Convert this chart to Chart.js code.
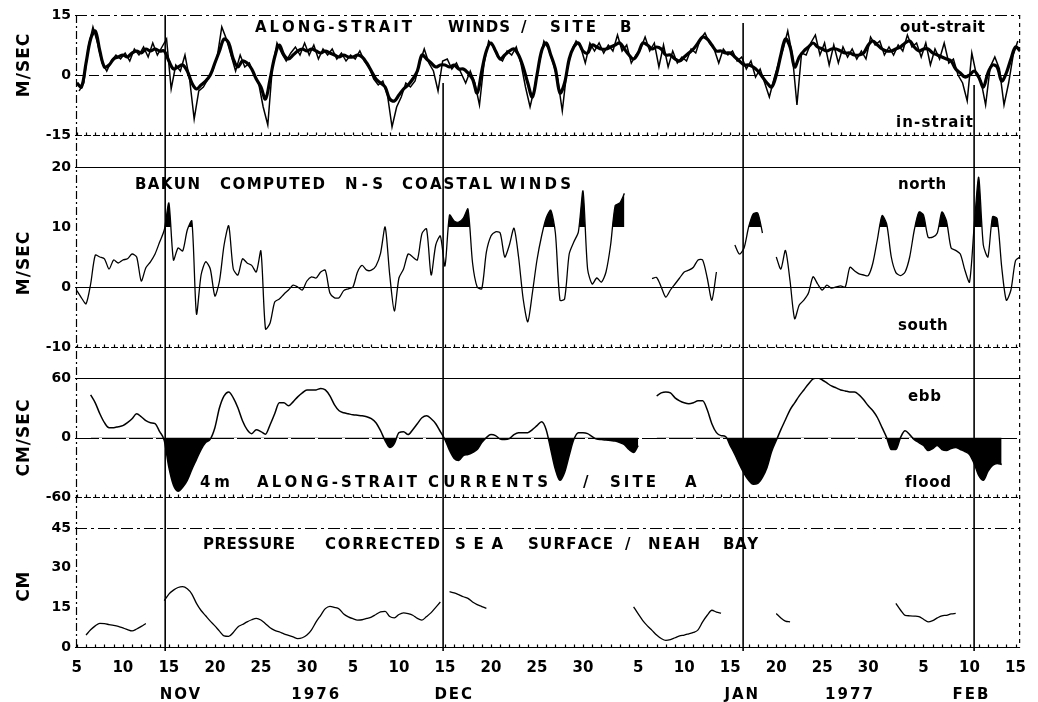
<!DOCTYPE html>
<html>
<head>
<meta charset="utf-8">
<script src="https://cdn.jsdelivr.net/npm/chart.js@4.4.1/dist/chart.umd.min.js"></script>
<style>
  html, body { margin: 0; padding: 0; background: #fff; }
  #wrap { width: 1038px; height: 702px; }
</style>
</head>
<body>
<div id="wrap"><canvas id="chart" width="1038" height="702"></canvas></div>
<script>
// ===== DATA =====
// day numbers: Nov d = d, Dec d = 30 + d, Jan d = 61 + d, Feb d = 92 + d
const STEP = 0.5; // half-day grid

const tickDays = [5, 10, 15, 20, 25, 30, 35, 40, 45, 50, 55, 60, 66, 71, 76, 81, 86, 91, 97, 102, 107];
const tickLabels = ['5', '10', '15', '20', '25', '30', '5', '10', '15', '20', '25', '30',
                    '5', '10', '15', '20', '25', '30', '5', '10', '15'];
const monthLabels = ['NOV', '1976', 'DEC', 'JAN', '1977', 'FEB'];
const monthDays = [16.2, 30.9, 45.9, 77.2, 88.9, 102.1];
const markerDays = [14.6, 44.8, 77.4, 102.5];
const markerTops = [15, -2, 13, -2.5]; // m/s on the top panel where each line begins

const yTicksWind = [15, 0, -15];
const yTicksBakun = [20, 15, 10, 5, 0, -5, -10];
const yTicksCur = [60, 0, -60];
const yTicksSea = [45, 30, 15, 0];

// along-strait wind, site B, low-passed (m/s), from day 5.0
const windSiteB = [
  -2, -3, 3, 9, 11, 6, 2, 2.5, 4, 4.5,
  5, 4.5, 5.5, 6, 5.5, 6.5, 6, 6.5, 6, 6,
  3.5, 1.5, 2, 2.5, 1, -2, -3.5, -2.5, -1.5, 0,
  3, 6, 9, 8, 4, 2, 3.5, 3, 1.5, -1,
  -3, -6, -1, 4.5, 7.5, 5, 4, 5, 6, 6.5,
  6, 6.5, 6, 5.5, 6, 5.5, 5, 4.5, 5, 4.5,
  4.5, 5, 4.5, 3, 1, -1, -2, -3, -6, -6.5,
  -5, -3.5, -2.5, -1, 1, 5, 4, 3, 2, 2.5,
  2.5, 2, 2.5, 1.5, 1.5, 0.5, -1, -4.5, 1, 6,
  8, 6, 4, 5, 6, 6.5, 5, 2, -2, -5.5,
  0, 6, 8, 5, 1.5, -4.5, -2, 4, 7, 8,
  6, 5.5, 7.5, 7, 6.5, 6.5, 7, 7.5, 8, 6.5,
  5, 4, 5.5, 8, 7.5, 6.5, 7, 6.5, 5, 5,
  4, 3.5, 4.5, 5.5, 6.5, 8, 9.5, 9, 7.5, 6,
  6, 5.5, 5.5, 4.5, 3.5, 2.5, 2.5, 2, 1, -0.5,
  -2, -3, 0, 5, 9, 7, 2, 4.5, 6, 7,
  8, 7, 6.5, 6, 6.5, 6.5, 6, 5.5, 5.5, 5,
  5, 5.5, 7.5, 8.5, 7.5, 6.5, 6, 6, 6.5, 7,
  8, 8.5, 7, 6, 6.5, 6.5, 5.5, 5, 4.5, 4,
  3.5, 1.5, 0.5, -0.5, 0, 1, -0.5, -3, 0.5, 2.5,
  2, -1.5, 0.5, 4, 7, 6
];

// along-strait wind, site B, raw (m/s), from day 5.25
const windRawB = [
  -4, -2, 7, 12, 8, 3, 1, 3.5, 5, 4,
  5.5, 3.5, 6.5, 5, 7, 4.5, 8, 5, 7, 9,
  -3.5, 2.5, 1, 5, -1, -11, -4, -3, -1, 1,
  4.5, 12, 9, 5, 1, 5, 2, 3, 0, -2,
  -8, -12.5, 2, 8, 5.5, 3.5, 5.5, 7, 5, 8,
  5, 7.5, 4, 6.5, 5, 6.5, 4, 5.5, 3.5, 5,
  4, 6, 3.5, 2, -1, -2.5, -1.5, -5, -13, -8,
  -5.5, -2, -3, -1.5, 3, 6.5, 3, 1, -4, 3.5,
  4, 1.5, 3, 0.5, -2, 1, -2, -7.5, 3, 8.5,
  7, 4.5, 3.5, 6, 5, 7, 3, -3, -8, -3,
  3, 8.5, 6.5, 3, -1, -9, 1, 6, 8.5, 7,
  3, 8, 6, 8, 5.5, 7.5, 6, 10, 6, 7.5,
  3, 5, 6.5, 9.5, 6, 8, 2, 7.5, 2, 6,
  3, 4.5, 3.5, 6.5, 5.5, 9, 10.5, 8, 6.5, 3,
  6.5, 5, 6, 3.5, 4.5, 1.5, 3.5, -0.5, 1.5, -2,
  -5.5, -1, 3, 6.5, 11, 5, -7.5, 5.5, 5, 8,
  10, 5, 8, 2.5, 7.5, 3, 7, 4.5, 6.5, 4,
  6, 4, 9.5, 7.5, 8.5, 5, 7, 5, 7.5, 6,
  10, 7, 8, 4.5, 8, 2.5, 6.5, 4, 8, 3,
  4, 0, -2, -6.5, 5.5, 0, -1.5, -7.5, 2, 4.5,
  1.5, -7.5, -2, 5, 8.5
];

// Bakun computed N-S coastal wind (m/s), from day 5.0
const bakunNS = [
  -0.6, -1.8, -2.8, 0.5, 5.3, 5, 4.7, 3, 4.5, 4,
  4.5, 4.7, 5.5, 5, 1, 3.2, 4.2, 5.5, 7.5, 9.5,
  14, 4.5, 6.5, 6, 9.5, 11, -4.5, 2, 4.2, 3,
  -1.5, 1, 7, 10.2, 3, 2, 4.7, 4, 3.6, 2.5,
  6, -7, -6, -2.5, -2, -1.2, -0.5, 0.3, 0, -0.5,
  1, 1.7, 1.5, 2.5, 2.8, -1, -1.8, -1.8, -0.6, -0.3,
  0, 2.5, 3.6, 2.8, 2.8, 3.5, 5.6, 10, 2, -4,
  1.5, 3, 5.5, 5, 4.5, 8.9, 9.7, 2, 7, 8.5,
  3.5, 12, 11, 10.8, 11.5, 13, 4, 0, -0.3, 5.8,
  8.5, 9.2, 9, 5, 7, 9.8, 5, -2, -5.8, -1,
  4.5, 8.5, 11.5, 12.8, 9, -2.2, -2, 5.5, 7.5, 9.2,
  16, 3, 0.5, 1.5, 0.8, 2.5, 7, 13.6, 14, 15.6,
  null, null, null, null, null, 1.4, 1.6, 0, -1.7, -0.5,
  0.5, 1.5, 2.5, 2.8, 3.3, 4.5, 4.5, 1.5, -2.2, 2.5,
  null, null, null, 7, 5.5, 6.5, 10, 12.2, 12.3, 9,
  null, null, 5, 3, 6.1, 1, -5.3, -3, -2.2, -1,
  1.7, 0.5, -0.5, 0.3, -0.2, 0, 0.2, 0, 3.3, 2.7,
  2.2, 2, 1.9, 4, 8, 11.9, 10.5, 5, 2.4, 1.9,
  2.5, 5, 9.5, 12.5, 12, 8.3, 8.3, 9, 12.5, 11,
  6.5, 6.1, 5.5, 2.8, 0.8, 10, 18.3, 7, 5, 11.7,
  11.4, 3.3, -2.2, -0.5, 4.4, 5
];

// 4 m along-strait current, site A (cm/s), from day 5.0
const currentA = [
  null, null, null, 43, 35, 24, 15, 10, 10, 11,
  12, 15, 19, 24, 21, 17, 15, 14, 6, -3,
  -30, -48, -54, -50, -43, -32, -22, -12, -5, -1.5,
  10, 30, 42, 46, 40, 30, 17, 8, 4, 8,
  6, 3.5, 13, 24, 35, 35, 32, 36, 41, 45,
  48, 48, 48, 49.5, 48, 42, 33, 27, 25, 24,
  23, 22.5, 22, 21, 19, 15, 7, -3, -10, -6,
  5, 6, 3, 8, 14, 20, 22, 19, 14, 6,
  -2, -13, -21, -23, -18, -17, -15, -12, -5, 0,
  3, 2, -1.5, -2, -1, 3, 5, 5, 5, 8,
  12, 16, 8, -12, -32, -43, -35, -18, -2, 5,
  5, 4, 1, -1.5, -2, -2.5, -3, -3.5, -5, -7,
  -12, -15, -8, null, null, null, 42, 45, 46, 45,
  40, 37, 35, 34, 35, 37, 37, 28, 14, 5,
  2, 1, -8, -17, -27, -36, -43, -47, -46, -40,
  -30, -14, -3, 8, 18, 28, 35, 42, 48, 54,
  59, 60, 58, 55, 52, 50, 48, 47, 46, 46,
  43, 38, 32, 27, 20, 10, 0, -12, -12, 0,
  6.8, 3, -2, -5, -8, -13, -11, -8, -12, -13,
  -11, -10, -12, -14, -17, -26, -38, -43, -34, -28,
  -26, -27, null, null, null, null
];

// pressure corrected sea surface, Neah Bay (cm), from day 5.0
const seaNeah = [
  null, null, 4.5, 6.5, 8, 8.9, 8.8, 8.5, 8.2, 7.8,
  7.2, 6.6, 6.1, 6.8, 7.8, 8.9, null, null, null, 17.5,
  20, 21.5, 22.5, 22.8, 22, 20, 16.5, 13.8, 11.8, 9.8,
  8, 6, 4.2, 4, 5.5, 7.6, 8.5, 9.5, 10.3, 10.8,
  10.2, 8.8, 7.3, 6.3, 5.7, 5, 4.4, 3.8, 3.2, 3.5,
  4.5, 6.5, 9.5, 12, 14.5, 15.4, 15, 14.4, 12.5, 11.4,
  10.7, 10.2, 10.3, 10.8, 11.3, 12.3, 13.3, 13.5, 11.5, 11,
  12.3, 12.9, 12.6, 12, 10.8, 10.2, 11.5, 13, 15, 17,
  null, 20.9, 20.5, 19.8, 19, 18.4, 17, 16, 15.3, 14.6,
  null, null, null, null, null, null, null, null, null, null,
  null, null, null, null, null, null, null, null, null, null,
  null, null, null, null, null, null, null, null, null, null,
  null, 15.2, 12.5, 10, 8, 6.3, 4.5, 3.2, 2.5, 2.8,
  3.5, 4.2, 4.5, 5, 5.5, 6.5, 9.5, 12, 13.9, 13.2,
  12.8, null, null, null, null, null, null, null, null, null,
  null, null, 12.7, 11, 9.8, 9.5, null, null, null, null,
  null, null, null, null, null, null, null, null, null, null,
  null, null, null, null, null, null, null, null, 16.5, 14,
  12, 11.8, 11.7, 11.5, 10.5, 9.5, 10, 11, 11.8, 12,
  12.5, 12.7, null, null, null, null, null, null, null, null,
  null, null, null, null, null, null
];

function toPoints(start, vals) {
  return vals.map((v, i) => ({ x: start + i * STEP, y: v }));
}

// ===== DRAWING =====
const FONT = '"DejaVu Sans", sans-serif';

// words of the panel captions: text, left, right, middle
const captions = [
  ['ALONG-STRAIT', 255, 412, 28], ['WINDS', 448, 510, 28], ['/', 521, 538, 28], ['SITE', 550, 596, 28], ['B', 620, 635, 28],
  ['BAKUN', 135, 200, 185], ['COMPUTED', 220, 325, 185], ['N-S', 345, 383, 185], ['COASTAL', 402, 492, 185], ['WINDS', 500, 571, 185],
  ['4m', 200, 230, 483], ['ALONG-STRAIT', 257, 417, 483], ['CURRENTS', 428, 548, 483], ['/', 583, 601, 483], ['SITE', 610, 656, 483], ['A', 685, 696, 483],
  ['PRESSURE', 203, 294, 545], ['CORRECTED', 325, 440, 545], ['SEA', 455, 503, 545], ['SURFACE', 528, 613, 545], ['/', 625, 641, 545], ['NEAH', 648, 700, 545], ['BAY', 723, 758, 545]
];
const sideNotes = [
  ['out-strait', 900, 985, 28], ['in-strait', 896, 973, 123],
  ['north', 898, 943, 185], ['south', 898, 945, 326],
  ['ebb', 908, 941, 397], ['flood', 905, 951, 483]
];
const axisTitles = [
  ['M/SEC', 'yWind', 2.5], ['M/SEC', 'yBakun', 4], ['CM/SEC', 'yCur', 0], ['CM', 'ySea', 23]
];
const frames = [
  { axis: 'yWind', lines: [[15, [12, 4, 3, 4]], [0, [10, 4]], [-15, [7, 2]]], base: -15 },
  { axis: 'yBakun', lines: [[20, []], [0, []], [-10, [7, 2]]], base: -10 },
  { axis: 'yCur', lines: [[60, []], [0, [24, 3]], [-60, [7, 2]]], base: -60 },
  { axis: 'ySea', lines: [[45, [12, 4, 3, 4]], [0, []]], base: 0 }
];

function drawSpaced(ctx, text, x0, x1, y) {
  const chars = [...text];
  const widths = chars.map(c => ctx.measureText(c).width);
  const total = widths.reduce((p, w) => p + w, 0);
  const gap = chars.length > 1 ? Math.max(0.5, (x1 - x0 - total) / (chars.length - 1)) : 0;
  let x = x0;
  chars.forEach((c, i) => {
    ctx.fillText(c, x, y);
    x += widths[i] + gap;
  });
}

const paperPlugin = {
  id: 'paper',
  beforeDatasetsDraw(chart) {
    const { ctx, chartArea: a, scales } = chart;
    const xs = scales.x;
    ctx.save();
    ctx.strokeStyle = '#000';
    ctx.lineWidth = 1.2;

    frames.forEach(f => {
      const s = scales[f.axis];
      f.lines.forEach(([v, dash]) => {
        const y = Math.round(s.getPixelForValue(v)) + 0.5;
        ctx.setLineDash(dash);
        ctx.beginPath();
        ctx.moveTo(a.left, y);
        ctx.lineTo(a.right, y);
        ctx.stroke();
      });
      // daily tick marks on the lower edge of each panel
      ctx.setLineDash([]);
      const yb = Math.round(s.getPixelForValue(f.base)) + 0.5;
      ctx.beginPath();
      for (let d = Math.ceil(xs.min); d <= xs.max; d++) {
        const x = Math.round(xs.getPixelForValue(d)) + 0.5;
        ctx.moveTo(x, yb);
        ctx.lineTo(x, yb - 3);
      }
      ctx.stroke();
    });

    // left and right edges
    ctx.setLineDash([8, 3, 2, 3]);
    ctx.beginPath();
    ctx.moveTo(a.left + 1.5, a.top);
    ctx.lineTo(a.left + 1.5, a.bottom);
    ctx.stroke();
    ctx.setLineDash([4, 4]);
    ctx.beginPath();
    ctx.moveTo(a.right - 0.5, a.top);
    ctx.lineTo(a.right - 0.5, a.bottom);
    ctx.stroke();

    // mid-month reference lines
    ctx.setLineDash([]);
    ctx.lineWidth = 1.6;
    markerDays.forEach((d, i) => {
      const x = xs.getPixelForValue(d);
      ctx.beginPath();
      ctx.moveTo(x, scales.yWind.getPixelForValue(markerTops[i]));
      ctx.lineTo(x, a.bottom + 4);
      ctx.stroke();
    });
    ctx.restore();
  },
  afterDatasetsDraw(chart) {
    const { ctx, scales } = chart;
    ctx.save();
    ctx.fillStyle = '#000';
    ctx.textBaseline = 'middle';
    ctx.textAlign = 'left';

    ctx.font = 'bold 15px ' + FONT;
    captions.forEach(([t, x0, x1, y]) => drawSpaced(ctx, t, x0, x1, y));
    sideNotes.forEach(([t, x0, x1, y]) => drawSpaced(ctx, t, x0, x1, y));

    // month / year row under the day ticks
    ctx.textAlign = 'center';
    ctx.letterSpacing = '2px';
    monthLabels.forEach((t, i) => {
      ctx.fillText(t, scales.x.getPixelForValue(monthDays[i]) + 1, 695);
    });
    ctx.letterSpacing = '1px';

    // rotated axis titles
    ctx.font = 'bold 17px ' + FONT;
    axisTitles.forEach(([t, id, v]) => {
      ctx.save();
      ctx.translate(25, scales[id].getPixelForValue(v));
      ctx.rotate(-Math.PI / 2);
      ctx.fillText(t, 0, 0);
      ctx.restore();
    });
    ctx.restore();
  }
};

function panelAxis(min, max, ticks, weight) {
  return {
    type: 'linear',
    position: 'left',
    stack: 'panels',
    stackWeight: weight,
    min: min,
    max: max,
    afterBuildTicks: s => { s.ticks = ticks.map(v => ({ value: v })); },
    afterFit: s => { s.width = 75; },
    grid: { display: false, drawTicks: false },
    border: { display: false },
    ticks: { color: '#000', padding: 4, font: { family: FONT, size: 14, weight: 'bold' } }
  };
}

function lineSet(data, axis, width, tension, extra) {
  return Object.assign({
    data: data,
    yAxisID: axis,
    borderColor: '#000',
    borderWidth: width,
    pointRadius: 0,
    tension: tension,
    fill: false,
    spanGaps: false
  }, extra || {});
}

new Chart(document.getElementById('chart'), {
  type: 'line',
  data: {
    datasets: [
      lineSet(toPoints(5.25, windRawB), 'yWind', 1.5, 0),
      lineSet(toPoints(5, windSiteB), 'yWind', 3.2, 0.35),
      lineSet(toPoints(5, bakunNS), 'yBakun', 1.3, 0.25, {
        fill: { target: { value: 10 }, above: '#000', below: 'rgba(0,0,0,0)' }
      }),
      lineSet(toPoints(5, currentA), 'yCur', 1.5, 0.4, {
        cubicInterpolationMode: 'monotone',
        fill: { target: { value: 0 }, above: 'rgba(0,0,0,0)', below: '#000' }
      }),
      lineSet(toPoints(5, seaNeah), 'ySea', 1.3, 0.4, { cubicInterpolationMode: 'monotone' })
    ]
  },
  options: {
    responsive: false,
    animation: false,
    devicePixelRatio: 1,
    layout: { padding: { top: 15, right: 8, left: 0, bottom: 0 } },
    plugins: { legend: { display: false }, tooltip: { enabled: false } },
    scales: {
      x: {
        type: 'linear',
        min: 4.8,
        max: 107.5,
        afterBuildTicks: s => { s.ticks = tickDays.map(v => ({ value: v })); },
        afterFit: s => { s.height = 55; },
        grid: { display: false, drawTicks: false },
        border: { display: false },
        ticks: {
          autoSkip: false,
          maxRotation: 0,
          padding: 12,
          color: '#000',
          font: { family: FONT, size: 15, weight: 'bold' },
          callback: (v, i) => tickLabels[i]
        }
      },
      // stacked panels are placed bottom-up in the order they are declared
      ySea: panelAxis(0, 45, yTicksSea, 119),
      yCur: panelAxis(-91, 60, yTicksCur, 150),
      yBakun: panelAxis(20 - 211 / 6, 20, yTicksBakun, 211),
      yWind: panelAxis(-23, 15, yTicksWind, 152)
    }
  },
  plugins: [paperPlugin]
});
</script>
</body>
</html>
